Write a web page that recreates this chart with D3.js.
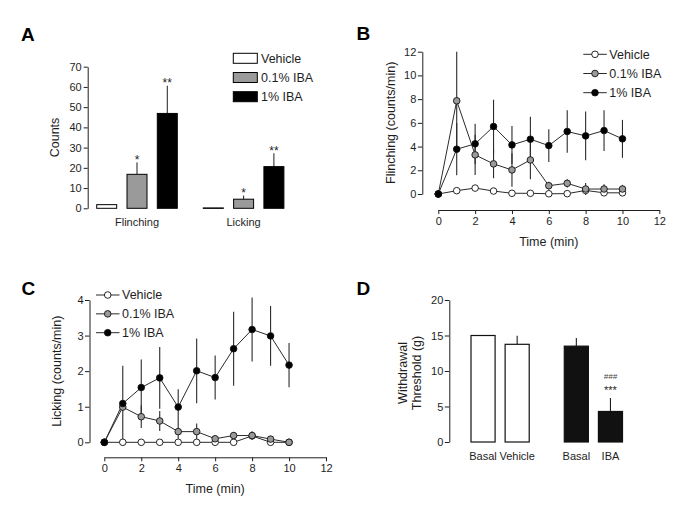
<!DOCTYPE html>
<html><head><meta charset="utf-8">
<script src="https://cdn.jsdelivr.net/npm/d3@7"></script>
<style>
body{margin:0;background:#fff;}
svg{font-family:"Liberation Sans",Arial,Helvetica,sans-serif;display:block;}
</style></head><body>
<svg id="fig" width="685" height="522"></svg>
<script>
// ---------- DATA ----------
// Panel A
const aGroups = ["Flinching", "Licking"];
const seriesNames = ["Vehicle", "0.1% IBA", "1% IBA"];
const aMeans = [[1.8, 16.8, 46.9], [0.2, 4.5, 20.6]];
const aErrs  = [[0.3, 5.9, 13.7], [0, 1.8, 6.6]];
const aStars = [["", "*", "**"], ["", "*", "**"]];
const aTicks = [0, 10, 20, 30, 40, 50, 60, 70];

// Panel B (flinching per minute)
const times = [0, 1, 2, 3, 4, 5, 6, 7, 8, 9, 10];
const xTicks = [0, 2, 4, 6, 8, 10, 12];
const bVehicle    = [0, 0.28, 0.5, 0.25, 0.06, 0.06, 0.02, 0.03, 0.3, 0.1, 0.1];
const bVehicleErr = [0, 0.15, 0.15, 0.1, 0.05, 0.05, 0.02, 0.02, 0.15, 0.05, 0.05];
const bLow        = [0, 7.86, 3.3, 2.54, 2.03, 2.87, 0.7, 0.9, 0.42, 0.42, 0.42];
const bLowErr     = [0, 4.14, 1.7, 1.22, 1.41, 1.63, 0.34, 0.35, 0.5, 0.4, 0.35];
const bHigh       = [0, 3.78, 4.23, 5.69, 4.14, 4.62, 4.08, 5.27, 4.9, 5.35, 4.65];
const bHighErr    = [0, 2.2, 1.69, 2.25, 1.6, 1.9, 1.38, 1.8, 2.05, 1.72, 1.6];
const bTicks = [0, 2, 4, 6, 8, 10, 12];

// Panel C (licking per minute)
const cVehicle    = [0, 0, 0, 0, 0, 0, 0, 0, 0.18, 0, 0];
const cVehicleErr = [0, 0, 0, 0, 0, 0, 0, 0, 0.08, 0, 0];
const cLow        = [0, 0.99, 0.72, 0.6, 0.3, 0.3, 0.1, 0.19, 0.19, 0.09, 0];
const cLowErr     = [0, 0.05, 0.32, 0.28, 0.2, 0.23, 0.06, 0.1, 0.12, 0.06, 0.02];
const cHigh       = [0, 1.09, 1.54, 1.81, 0.99, 2.01, 1.82, 2.63, 3.17, 2.99, 2.17];
const cHighErr    = [0, 1.06, 0.79, 0.87, 0.5, 0.91, 0.62, 1.04, 0.9, 0.84, 0.62];
const cTicks = [0, 1, 2, 3, 4];

// Panel D (withdrawal threshold)
const dGroups = ["Vehicle", "IBA"];
const dConds = ["Basal", "Treated"];
const dLabels = [["Basal", "Vehicle"], ["Basal", "IBA"]];
const dMeans = [[15, 13.76], [13.5, 4.3]];
const dErrs  = [[0, 1.2], [1.15, 1.9]];
const dTicks = [0, 5, 10, 15, 20];

// ---------- STYLE ----------
const ink = "#1e1e1e";
const fills = ["#ffffff", "#9a9a9a", "#000000"];
const svg = d3.select("#fig");
const intFmt = d3.format("d");

function styleAxis(g, fs) {
  g.select(".domain").attr("stroke", ink).attr("stroke-width", 1);
  g.selectAll(".tick line").attr("stroke", ink).attr("stroke-width", 1);
  g.selectAll(".tick text").attr("fill", ink).attr("font-size", fs).attr("font-family", null);
}
function panelLetter(t, x, y) {
  svg.append("text").attr("x", x).attr("y", y).text(t)
    .attr("font-size", 19).attr("font-weight", "bold").attr("fill", "#000");
}
function yTitle(lines, x, y, step) {
  lines.forEach((l, i) => {
    svg.append("text").attr("transform", `translate(${x + i * step},${y}) rotate(-90)`)
      .attr("text-anchor", "middle").attr("dy", "0.35em")
      .attr("font-size", 12.5).attr("fill", ink).text(l);
  });
}

// ---------- PANEL A ----------
(function () {
  const g = svg.append("g");
  const x0 = d3.scaleBand().domain(aGroups).range([96.7, 283.9]).paddingInner(0.244).paddingOuter(0);
  const x1 = d3.scaleBand().domain(seriesNames).range([0, x0.bandwidth()]).paddingInner(0.34).paddingOuter(0);
  const y = d3.scaleLinear().domain([0, 70]).range([208.3, 66.7]);

  g.append("g").attr("transform", "translate(87.7,0)")
    .call(d3.axisLeft(y).tickValues(aTicks).tickFormat(intFmt).tickSize(4).tickSizeOuter(0).tickPadding(2))
    .call(a => styleAxis(a, 11));

  const xa = g.append("g").attr("transform", `translate(0,${y(0)})`)
    .call(d3.axisBottom(x0).tickSize(0).tickPadding(10));
  styleAxis(xa, 11);
  xa.select(".domain").remove();

  aGroups.forEach((grp, gi) => {
    seriesNames.forEach((s, si) => {
      const bx = x0(grp) + x1(s), bw = x1.bandwidth();
      const m = aMeans[gi][si], e = aErrs[gi][si];
      if (e > 0) {
        g.append("line").attr("x1", bx + bw / 2).attr("x2", bx + bw / 2)
          .attr("y1", y(m)).attr("y2", y(m + e)).attr("stroke", ink).attr("stroke-width", 1);
      }
      g.append("rect").attr("x", bx).attr("width", bw)
        .attr("y", y(m)).attr("height", Math.max(0.5, y(0) - y(m)))
        .attr("fill", fills[si]).attr("stroke", "#000").attr("stroke-width", 1);
      if (aStars[gi][si]) {
        g.append("text").attr("x", bx + bw / 2).attr("y", y(m + e) + 1.5)
          .attr("text-anchor", "middle").attr("font-size", 12).attr("fill", ink)
          .text(aStars[gi][si]);
      }
    });
  });

  // legend
  const ly = d3.scalePoint().domain(seriesNames).range([58.3, 96.7]);
  seriesNames.forEach((s, i) => {
    g.append("rect").attr("x", 233.3).attr("y", ly(s) - 5).attr("width", 24).attr("height", 10)
      .attr("fill", fills[i]).attr("stroke", "#000").attr("stroke-width", 1);
    g.append("text").attr("x", 261).attr("y", ly(s)).attr("dy", "0.35em")
      .attr("font-size", 12.5).attr("fill", ink).text(s);
  });

  yTitle(["Counts"], 55, 137.5, 0);
  panelLetter("A", 21, 40.7);
})();

// ---------- LINE PANELS ----------
function linePanel(cfg) {
  const g = svg.append("g");
  const x = d3.scaleLinear().domain([0, 12]).range([cfg.x0, cfg.x1]);
  const y = d3.scaleLinear().domain([0, cfg.ymax]).range([cfg.y0, cfg.y1]);

  g.append("g").attr("transform", `translate(${cfg.yAxisX},0)`)
    .call(d3.axisLeft(y).tickValues(cfg.yTicks).tickFormat(intFmt).tickSize(4.5).tickSizeOuter(0).tickPadding(1.5))
    .call(a => styleAxis(a, 11));
  g.append("g").attr("transform", `translate(0,${cfg.xAxisY})`)
    .call(d3.axisBottom(x).tickValues(xTicks).tickFormat(intFmt).tickSize(4).tickSizeOuter(0).tickPadding(3))
    .call(a => styleAxis(a, 11));

  const ser = cfg.series;
  // error bars
  ser.forEach(s => {
    times.forEach((t, i) => {
      if (s.err[i] > 0) {
        g.append("line").attr("x1", x(t)).attr("x2", x(t))
          .attr("y1", y(s.vals[i] - s.err[i])).attr("y2", y(s.vals[i] + s.err[i]))
          .attr("stroke", "#2a2a2a").attr("stroke-width", 1.1);
      }
    });
  });
  const line = d3.line().x((d, i) => x(times[i])).y(d => y(d));
  ser.forEach(s => {
    g.append("path").attr("d", line(s.vals)).attr("fill", "none")
      .attr("stroke", "#2a2a2a").attr("stroke-width", 1);
  });
  ser.forEach((s, si) => {
    g.selectAll(null).data(s.vals).enter().append("circle")
      .attr("cx", (d, i) => x(times[i])).attr("cy", d => y(d)).attr("r", 3.3)
      .attr("fill", fills[si]).attr("stroke", "#111").attr("stroke-width", 0.9);
  });

  // legend
  const ly = d3.scalePoint().domain(seriesNames).range([cfg.legY0, cfg.legY1]);
  seriesNames.forEach((s, i) => {
    g.append("line").attr("x1", cfg.legX).attr("x2", cfg.legX + 23.5)
      .attr("y1", ly(s)).attr("y2", ly(s)).attr("stroke", "#2a2a2a").attr("stroke-width", 1);
    g.append("circle").attr("cx", cfg.legX + 11.7).attr("cy", ly(s)).attr("r", 3.3)
      .attr("fill", fills[i]).attr("stroke", "#111").attr("stroke-width", 0.9);
    g.append("text").attr("x", cfg.legX + 26).attr("y", ly(s)).attr("dy", "0.35em")
      .attr("font-size", 12.5).attr("fill", ink).text(s);
  });

  g.append("text").attr("x", (cfg.x0 + cfg.x1) / 2).attr("y", cfg.xTitleY)
    .attr("text-anchor", "middle").attr("font-size", 12.5).attr("fill", ink).text("Time (min)");
  yTitle([cfg.yTitle], cfg.yTitleX, (cfg.y0 + cfg.y1) / 2, 0);
}

linePanel({
  x0: 438.3, x1: 659.3, y0: 194, y1: 51.7, ymax: 12, yTicks: bTicks,
  yAxisX: 422.3, xAxisY: 210,
  series: [
    { vals: bVehicle, err: bVehicleErr },
    { vals: bLow, err: bLowErr },
    { vals: bHigh, err: bHighErr }
  ],
  legX: 583.3, legY0: 54.3, legY1: 92.7,
  xTitleY: 245.5, yTitle: "Flinching (counts/min)", yTitleX: 390.7
});
panelLetter("B", 356.5, 40);

linePanel({
  x0: 104.3, x1: 326, y0: 442.3, y1: 300, ymax: 4, yTicks: cTicks,
  yAxisX: 89.5, xAxisY: 457.3,
  series: [
    { vals: cVehicle, err: cVehicleErr },
    { vals: cLow, err: cLowErr },
    { vals: cHigh, err: cHighErr }
  ],
  legX: 96, legY0: 295, legY1: 332.7,
  xTitleY: 492.5, yTitle: "Licking (counts/min)", yTitleX: 56.7
});
panelLetter("C", 21.5, 295);

// ---------- PANEL D ----------
(function () {
  const g = svg.append("g");
  const x0 = d3.scaleBand().domain(dGroups).range([471, 622.5]).paddingInner(0.376).paddingOuter(0);
  const x1 = d3.scaleBand().domain(dConds).range([0, x0.bandwidth()]).paddingInner(0.294).paddingOuter(0);
  const y = d3.scaleLinear().domain([0, 20]).range([442, 300]);

  g.append("g").attr("transform", "translate(449.3,0)")
    .call(d3.axisLeft(y).tickValues(dTicks).tickFormat(intFmt).tickSize(4.5).tickSizeOuter(0).tickPadding(1.5))
    .call(a => styleAxis(a, 11));

  dGroups.forEach((grp, gi) => {
    dConds.forEach((c, ci) => {
      const bx = x0(grp) + x1(c), bw = x1.bandwidth();
      const m = dMeans[gi][ci], e = dErrs[gi][ci];
      if (e > 0) {
        g.append("line").attr("x1", bx + bw / 2).attr("x2", bx + bw / 2)
          .attr("y1", y(m)).attr("y2", y(m + e)).attr("stroke", ink).attr("stroke-width", 1.1);
      }
      g.append("rect").attr("x", bx).attr("width", bw).attr("y", y(m)).attr("height", y(0) - y(m))
        .attr("fill", gi === 0 ? "#fff" : "#111").attr("stroke", "#111").attr("stroke-width", 1.2);
      g.append("text").attr("x", bx + bw / 2).attr("y", y(0) + 10).attr("dy", "0.71em")
        .attr("text-anchor", "middle").attr("font-size", 11).attr("fill", ink).text(dLabels[gi][ci]);
      if (gi === 1 && ci === 1) {
        g.append("text").attr("x", bx + bw / 2).attr("y", y(m + e) - 4)
          .attr("text-anchor", "middle").attr("font-size", 11).attr("fill", ink).text("***");
        g.append("text").attr("x", bx + bw / 2).attr("y", y(m + e) - 18.5)
          .attr("text-anchor", "middle").attr("font-size", 8).attr("font-style", "italic")
          .attr("fill", "#444").text("###");
      }
    });
  });

  yTitle(["Withdrawal", "Threshold (g)"], 403, 373, 13.7);
  panelLetter("D", 356.5, 295);
})();
</script>
</body></html>
